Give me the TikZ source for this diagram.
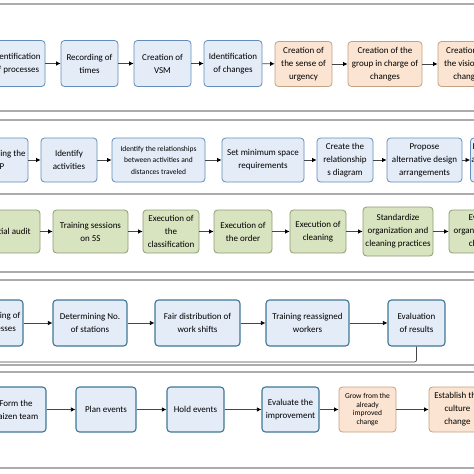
\documentclass[tikz,border=0pt]{standalone}
\usepackage{fontspec}
\setmainfont{Carlito}
\usetikzlibrary{arrows.meta}
\definecolor{bluefill}{HTML}{E4ECF8}
\definecolor{blueline}{HTML}{638CBA}
\definecolor{tealline}{HTML}{3F7796}
\definecolor{orangefill}{HTML}{FBE4D1}
\definecolor{orangeline}{HTML}{C4A182}
\definecolor{greenfill}{HTML}{D8E3BF}
\definecolor{greenline}{HTML}{8D9C72}
\tikzset{
  box/.style={draw, rounded corners=3.5pt, align=center, inner sep=1pt,
    font=\fontsize{9}{13}\selectfont, line width=0.8pt},
  bluebox/.style={box, draw=blueline, fill=bluefill},
  tealbox/.style={box, draw=tealline, fill=bluefill, line width=1.1pt},
  orangebox/.style={box, draw=orangeline, fill=orangefill},
  greenbox/.style={box, draw=greenline, fill=greenfill},
  smalltext/.style={font=\fontsize{7.5}{11.5}\selectfont},
  tinytext/.style={font=\fontsize{7.5}{8.6}\selectfont},
  flow/.style={draw=gray!55!black, line width=0.7pt, -{Latex[length=4.5pt,width=4.5pt,black]}},
  band/.style={draw=gray!65, line width=1.4pt}
}
\begin{document}
\begin{tikzpicture}[x=1pt,y=-1pt]
\useasboundingbox (0,0) rectangle (474,474);
\clip (0,0) rectangle (474,474);
%Band borders:
\foreach \y in {4,111,120,194,272,280,365,372,468}{
  \draw[band] (-5,\y) -- (480,\y);}
%First row (VSM and change):
\node[bluebox, minimum width=57, minimum height=46] (p1) at (16.5,63.5) {Identification\\of processes};
\node[bluebox, minimum width=57, minimum height=46] (p2) at (89.5,63.5) {Recording of\\times};
\node[bluebox, minimum width=57, minimum height=46] (p3) at (162.5,63.5) {Creation of\\VSM};
\node[bluebox, minimum width=58, minimum height=46] (p4) at (233,63.5) {Identification\\of changes};
\node[orangebox, minimum width=57, minimum height=45] (p5) at (303.5,64) {Creation of\\the sense of\\urgency};
\node[orangebox, minimum width=74, minimum height=45] (p6) at (385,64) {Creation of the\\group in charge of\\changes};
\node[orangebox, minimum width=57, minimum height=45] (p7) at (466.5,64) {Creation of\\the vision of\\change};
\foreach \a/\b in {p1/p2,p2/p3,p3/p4,p4/p5,p5/p6,p6/p7}{
  \draw[flow] (\a) -- (\b);}
%Second row (SLP):
\node[bluebox, minimum width=60, minimum height=44] (q1) at (-2,160) {Developing the\\SLP};
\node[bluebox, minimum width=56, minimum height=44] (q2) at (69,160) {Identify\\activities};
\node[bluebox, smalltext, minimum width=93, minimum height=44] (q3) at (158.5,160) {Identify the relationships\\between activities and\\distances traveled};
\node[bluebox, minimum width=82, minimum height=44] (q4) at (263,160) {Set minimum space\\requirements};
\node[bluebox, minimum width=56, minimum height=44] (q5) at (345,160) {Create the\\relationship\\s diagram};
\node[bluebox, minimum width=75, minimum height=44] (q6) at (424.5,160) {Propose\\alternative design\\arrangements};
\node[bluebox, minimum width=66, minimum height=44] (q7) at (504,160) {Evaluate the best\\alternative design\\arrangement};
\foreach \a/\b in {q1/q2,q2/q3,q3/q4,q4/q5,q5/q6,q6/q7}{
  \draw[flow] (\a) -- (\b);}
%Third row (5S):
\node[greenbox, minimum width=60, minimum height=43] (r1) at (10,231.5) {Initial audit};
\node[greenbox, minimum width=75, minimum height=43] (r2) at (90.5,231.5) {Training sessions\\on 5S};
\node[greenbox, minimum width=56, minimum height=43] (r3) at (171,231.5) {Execution of\\the\\classification};
\node[greenbox, minimum width=58, minimum height=43] (r4) at (243,231.5) {Execution of\\the order};
\node[greenbox, minimum width=56, minimum height=43] (r5) at (318,231.5) {Execution of\\cleaning};
\node[greenbox, minimum width=70, minimum height=49] (r6) at (398,231.5) {Standardize\\organization and\\cleaning practices};
\node[greenbox, minimum width=70, minimum height=43] (r7) at (484,231.5) {Evaluate\\organization and\\cleaning};
\foreach \a/\b in {r1/r2,r2/r3,r3/r4,r4/r5,r5/r6,r6/r7}{
  \draw[flow] (\a) -- (\b);}
%Fourth row (line balancing):
\node[tealbox, minimum width=50, minimum height=46] (s1) at (-2,323) {Balancing of\\processes};
\node[tealbox, minimum width=74, minimum height=46] (s2) at (90,323) {Determining No.\\of stations};
\node[tealbox, minimum width=85, minimum height=46] (s3) at (197.5,323) {Fair distribution of\\work shifts};
\node[tealbox, minimum width=83, minimum height=46] (s4) at (307.5,323) {Training reassigned\\workers};
\node[tealbox, minimum width=57, minimum height=46] (s5) at (416.5,323) {Evaluation\\of results};
\foreach \a/\b in {s1/s2,s2/s3,s3/s4,s4/s5}{
  \draw[flow] (\a) -- (\b);}
\coordinate (back) at (-10,362);
\draw[draw=gray!55!black, line width=0.7pt, rounded corners=2pt] (s5.south) |- (back);
%Fifth row (kaizen):
\node[tealbox, minimum width=60, minimum height=45] (t1) at (16,409.5) {Form the\\Kaizen team};
\node[tealbox, minimum width=60, minimum height=45] (t2) at (106,409.5) {Plan events};
\node[tealbox, minimum width=57, minimum height=45] (t3) at (195.5,409.5) {Hold events};
\node[tealbox, minimum width=57, minimum height=45] (t4) at (290.5,409.5) {Evaluate the\\improvement};
\node[orangebox, tinytext, minimum width=57, minimum height=45] (t5) at (367.5,409.5) {Grow from the\\already\\improved\\change};
\node[orangebox, minimum width=57, minimum height=45] (t6) at (457.5,409.5) {Establish the\\culture\\change};
\foreach \a/\b in {t1/t2,t2/t3,t3/t4,t4/t5,t5/t6}{
  \draw[flow] (\a) -- (\b);}
\end{tikzpicture}
\end{document}
